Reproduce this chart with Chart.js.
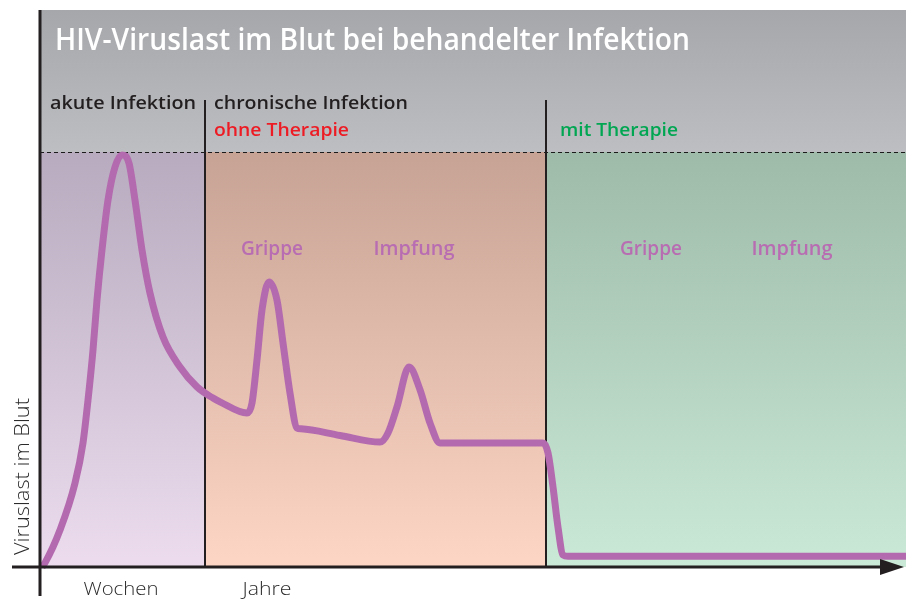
<!DOCTYPE html>
<html>
<head>
<meta charset="utf-8">
<script src="https://cdn.jsdelivr.net/npm/chart.js@4/dist/chart.umd.min.js"></script>
<style>
html,body{margin:0;padding:0;background:#fff;}
canvas{display:block;}
</style>
</head>
<body>
<canvas id="c" width="906" height="599"></canvas>
<script>
// ---- data ----
const timeUnits = [2,5,20,35,43,48,53,57,62,68,75,82,89,95,102,110,123,140,157,173,180,207,212,217,222,229,237,243,250,257,261,300,340,348,357,369,380,390,400,404,503,508,513,518,523,528,866];
const viralLoad = [0,1.0,8.9,20.2,29.9,40.2,52.3,64.3,76.4,88.4,96.4,99.3,97.3,88.4,76.4,66.0,55.4,48.2,43.4,40.7,39.8,37.1,39.5,49.9,61.9,68.7,64.3,54.0,41.9,33.5,33.3,31.7,30.1,32.3,38.6,48.2,42.7,34.7,29.9,29.9,29.9,27.5,19.3,9.6,2.9,2.6,2.6];
const phaseBounds = [0, 165, 506, 866];
const timeLabels = ['Wochen', 'Jahre'];
const timeLabelAt = [81, 227];
const eventLabels = ['Grippe', 'Impfung', 'Grippe', 'Impfung'];
const eventLabelAt = [232, 374, 611, 752];
const peakLevel = 100;

const points = timeUnits.map((x, i) => ({x: x, y: viralLoad[i]}));

function drawFit(ctx, text, x, y, width, font, color) {
  ctx.save();
  ctx.font = font;
  ctx.fillStyle = color;
  ctx.textBaseline = 'alphabetic';
  ctx.textAlign = 'left';
  const w = ctx.measureText(text).width;
  ctx.translate(x, y);
  ctx.scale(width / w, 1);
  ctx.fillText(text, 0, 0);
  ctx.restore();
}

const bgPlugin = {
  id: 'bg',
  beforeDatasetsDraw(chart) {
    const ctx = chart.ctx;
    const xs = chart.scales.x, ys = chart.scales.y;
    const top = ys.getPixelForValue(peakLevel);
    const bottom = ys.getPixelForValue(0);
    const headerTop = 10;
    const left = xs.getPixelForValue(phaseBounds[0]);
    const right = xs.getPixelForValue(phaseBounds[3]);
    ctx.save();
    let g = ctx.createLinearGradient(0, headerTop, 0, top);
    g.addColorStop(0, '#a6a7ab');
    g.addColorStop(1, '#bdbec2');
    ctx.fillStyle = g;
    ctx.fillRect(left, headerTop, right - left, top - headerTop);
    const cols = [['#b8abbf', '#ecdcee'], ['#c7a395', '#fed6c5'], ['#9ebba9', '#cbe9d7']];
    for (let i = 0; i < 3; i++) {
      const x0 = xs.getPixelForValue(phaseBounds[i]);
      const x1 = xs.getPixelForValue(phaseBounds[i + 1]);
      const gr = ctx.createLinearGradient(0, top, 0, bottom);
      gr.addColorStop(0, cols[i][0]);
      gr.addColorStop(1, cols[i][1]);
      ctx.fillStyle = gr;
      ctx.fillRect(x0, top, x1 - x0, bottom - top);
    }
    ctx.strokeStyle = '#1a1a1a';
    ctx.lineWidth = 1;
    ctx.setLineDash([4, 3]);
    ctx.beginPath();
    ctx.moveTo(left, top + 0.5);
    ctx.lineTo(right, top + 0.5);
    ctx.stroke();
    ctx.setLineDash([]);
    ctx.strokeStyle = '#231f20';
    ctx.lineWidth = 2;
    [phaseBounds[1], phaseBounds[2]].forEach(v => {
      const px = Math.round(xs.getPixelForValue(v));
      ctx.beginPath();
      ctx.moveTo(px, 100);
      ctx.lineTo(px, bottom);
      ctx.stroke();
    });
    ctx.restore();

    drawFit(ctx, 'HIV-Viruslast im Blut bei behandelter Infektion', 55, 50, 635, '600 30px "Open Sans"', '#ffffff');
    drawFit(ctx, 'akute Infektion', 50, 109, 146, '600 18px "Open Sans"', '#231f20');
    drawFit(ctx, 'chronische Infektion', 214, 109, 194, '600 18px "Open Sans"', '#231f20');
    drawFit(ctx, 'ohne Therapie', 214, 136, 135, '600 18px "Open Sans"', '#ed1c24');
    drawFit(ctx, 'mit Therapie', 560, 136, 118, '600 18px "Open Sans"', '#00a651');
    const evW = [62, 81, 62, 81];
    eventLabels.forEach((t, i) => {
      const cx = xs.getPixelForValue(eventLabelAt[i]);
      drawFit(ctx, t, cx - evW[i] / 2, 255, evW[i], '600 19px "Open Sans"', '#b86cb2');
    });
    const tW = [75, 49];
    timeLabels.forEach((t, i) => {
      const cx = xs.getPixelForValue(timeLabelAt[i]);
      drawFit(ctx, t, cx - tW[i] / 2, 595, tW[i], '300 19px "Open Sans"', '#2b2b2b');
    });
    ctx.save();
    ctx.translate(29, 555);
    ctx.rotate(-Math.PI / 2);
    drawFit(ctx, 'Viruslast im Blut', 0, 0, 157, '300 21px "Open Sans"', '#2b2b2b');
    ctx.restore();
  },
  afterDatasetsDraw(chart) {
    const ctx = chart.ctx;
    const xs = chart.scales.x, ys = chart.scales.y;
    const y0 = ys.getPixelForValue(0);
    const x0 = xs.getPixelForValue(0);
    ctx.save();
    ctx.fillStyle = '#231f20';
    ctx.fillRect(x0 - 1.5, 10, 3, 586);
    ctx.fillRect(12, y0 - 1.5, 872, 3);
    ctx.beginPath();
    ctx.moveTo(880, y0 - 8);
    ctx.lineTo(904, y0);
    ctx.lineTo(880, y0 + 8);
    ctx.closePath();
    ctx.fill();
    ctx.restore();
  }
};

new Chart(document.getElementById('c'), {
  type: 'line',
  data: {
    datasets: [{
      data: points,
      borderColor: '#b46aae',
      borderWidth: 7,
      pointRadius: 0,
      cubicInterpolationMode: 'monotone',
      borderCapStyle: 'butt',
      borderJoinStyle: 'round',
      fill: false,
      clip: false
    }]
  },
  options: {
    responsive: false,
    devicePixelRatio: 1,
    animation: false,
    layout: {padding: {left: 40, right: 0, top: 152, bottom: 32}},
    plugins: {legend: {display: false}, tooltip: {enabled: false}, title: {display: false}},
    scales: {
      x: {type: 'linear', min: 0, max: 866, display: false},
      y: {type: 'linear', min: 0, max: 100, display: false}
    }
  },
  plugins: [bgPlugin]
});
</script>
</body>
</html>
